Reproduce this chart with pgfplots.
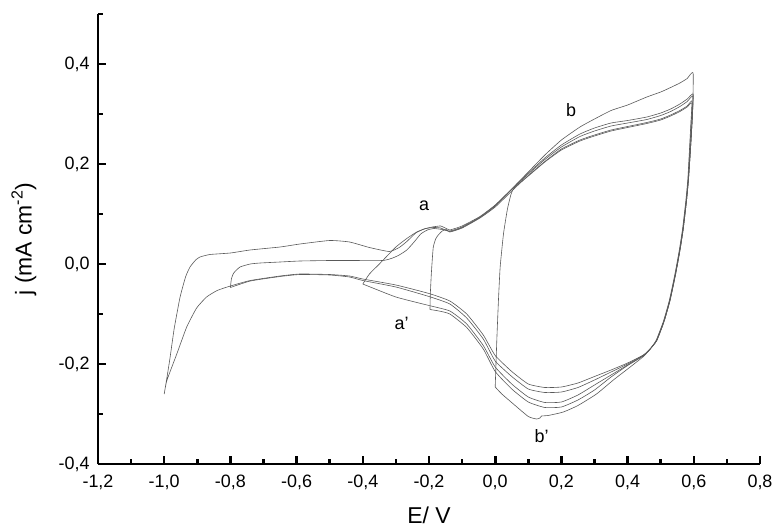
\documentclass[border=0pt]{standalone}
\usepackage{fontspec}
\setmainfont{Liberation Sans}
\usepackage{pgfplots}
\pgfplotsset{compat=1.18}
\pgfplotsset{mycv/.style={black!65, line width=0.6bp, mark=none, smooth, tension=0.3}}
\begin{document}
\begin{tikzpicture}[x=1bp,y=1bp]
\useasboundingbox (-98bp,-64bp) rectangle (676bp,464bp);
\begin{axis}[
  at={(0,0)}, anchor=south west,
  scale only axis, width=662bp, height=450bp,
  xmin=-1.2, xmax=0.8, ymin=-0.4, ymax=0.5,
  axis x line*=bottom, axis y line*=left,
  axis line style={line width=2.6bp},
  xtick={-1.2,-1.0,-0.8,-0.6,-0.4,-0.2,0,0.2,0.4,0.6,0.8},
  minor xtick={-1.1,-0.9,-0.7,-0.5,-0.3,-0.1,0.1,0.3,0.5,0.7},
  ytick={-0.4,-0.2,0,0.2,0.4},
  minor ytick={-0.3,-0.1,0.1,0.3,0.5},
  tick align=inside,
  major tick length=8bp, minor tick length=5bp,
  every tick/.style={line width=2.6bp, black},
  tick label style={font=\fontsize{18}{20}\selectfont},
  xticklabel style={yshift=-7bp},
  yticklabel style={xshift=-5bp},
  /pgf/number format/.cd, fixed, fixed zerofill, precision=1, use comma, assume math mode=true,
  /pgfplots/.cd,
  clip=false,
]
% Loop A (-1.0 to 0.6)
\addplot[mycv] coordinates {
(-1.0,-0.26)(-0.99,-0.22)(-0.982,-0.186)(-0.97,-0.13)(-0.952,-0.066)(-0.935,-0.025)(-0.922,-0.006)(-0.905,0.008)(-0.892,0.014)(-0.862,0.019)(-0.8,0.022)(-0.741,0.028)(-0.65,0.034)(-0.59,0.04)(-0.5,0.047)(-0.44,0.044)(-0.38,0.033)(-0.32,0.025)(-0.29,0.033)(-0.267,0.045)(-0.24,0.062)(-0.215,0.07)(-0.19,0.074)(-0.165,0.076)(-0.145,0.07)
(-0.137,0.068)(-0.1,0.076)(-0.046,0.095)(0.0,0.118)(0.05,0.15)(0.1,0.184)(0.15,0.218)(0.2,0.248)(0.256,0.274)(0.3,0.29)(0.35,0.307)(0.4,0.318)(0.458,0.334)(0.5,0.344)(0.53,0.353)(0.558,0.362)(0.58,0.371)(0.598,0.382)
(0.596,0.3)(0.59,0.23)(0.584,0.17)(0.578,0.127)(0.568,0.07)(0.558,0.027)(0.545,-0.02)(0.528,-0.073)(0.51,-0.115)(0.488,-0.153)(0.468,-0.17)(0.448,-0.182)
(0.4,-0.198)(0.35,-0.212)(0.3,-0.225)(0.25,-0.238)(0.2,-0.246)(0.15,-0.247)(0.1,-0.24)(0.05,-0.215)(0.0,-0.183)(-0.036,-0.142)(-0.086,-0.1)(-0.137,-0.074)(-0.2,-0.059)(-0.3,-0.042)(-0.4,-0.03)(-0.44,-0.024)(-0.5,-0.021)(-0.59,-0.02)(-0.65,-0.024)(-0.74,-0.033)(-0.8,-0.044)(-0.84,-0.053)(-0.872,-0.066)(-0.902,-0.088)(-0.932,-0.126)(-0.962,-0.18)(-0.992,-0.233)(-1.0,-0.26)
};
% Loop B (-0.8 to 0.6)
\addplot[mycv] coordinates {
(-0.8,-0.047)(-0.797,-0.03)(-0.79,-0.018)(-0.771,-0.006)(-0.74,0.0)(-0.71,0.002)(-0.65,0.004)(-0.59,0.006)(-0.5,0.007)(-0.44,0.007)(-0.34,0.007)(-0.31,0.012)(-0.29,0.018)(-0.267,0.028)(-0.245,0.044)(-0.225,0.06)(-0.205,0.068)(-0.185,0.071)(-0.16,0.069)
(-0.137,0.066)(-0.1,0.074)(-0.046,0.094)(0.0,0.117)(0.05,0.15)(0.1,0.182)(0.15,0.212)(0.2,0.238)(0.256,0.26)(0.3,0.272)(0.35,0.282)(0.4,0.287)(0.458,0.294)(0.5,0.302)(0.53,0.31)(0.558,0.32)(0.58,0.33)(0.598,0.34)
(0.596,0.3)(0.59,0.23)(0.584,0.17)(0.578,0.127)(0.568,0.07)(0.558,0.027)(0.545,-0.02)(0.528,-0.073)(0.51,-0.115)(0.488,-0.153)(0.468,-0.17)(0.448,-0.182)
(0.4,-0.2)(0.35,-0.216)(0.3,-0.232)(0.25,-0.247)(0.2,-0.256)(0.15,-0.257)(0.1,-0.25)(0.05,-0.225)(0.0,-0.194)(-0.036,-0.15)(-0.086,-0.108)(-0.137,-0.08)(-0.2,-0.065)(-0.3,-0.046)(-0.4,-0.033)(-0.44,-0.026)(-0.5,-0.022)(-0.59,-0.021)(-0.65,-0.025)(-0.74,-0.034)(-0.8,-0.047)
};
% Loop C (-0.4 to 0.6)
\addplot[mycv] coordinates {
(-0.4,-0.04)(-0.38,-0.02)(-0.35,0.0)(-0.3,0.034)(-0.265,0.052)(-0.237,0.064)(-0.21,0.071)(-0.185,0.073)(-0.165,0.072)
(-0.137,0.065)(-0.1,0.073)(-0.046,0.093)(0.0,0.116)(0.05,0.149)(0.1,0.18)(0.15,0.209)(0.2,0.234)(0.256,0.255)(0.3,0.266)(0.35,0.276)(0.4,0.282)(0.458,0.289)(0.5,0.297)(0.53,0.305)(0.558,0.315)(0.58,0.325)(0.597,0.336)
(0.596,0.3)(0.59,0.23)(0.584,0.17)(0.578,0.127)(0.568,0.07)(0.558,0.027)(0.545,-0.02)(0.528,-0.073)(0.51,-0.115)(0.488,-0.153)(0.468,-0.17)(0.448,-0.183)
(0.4,-0.202)(0.35,-0.222)(0.3,-0.242)(0.25,-0.262)(0.2,-0.276)(0.15,-0.277)(0.1,-0.266)(0.05,-0.24)(0.0,-0.206)(-0.036,-0.163)(-0.086,-0.12)(-0.137,-0.094)(-0.2,-0.083)(-0.3,-0.066)(-0.4,-0.04)
};
% Loop D (-0.2 to 0.6)
\addplot[mycv] coordinates {
(-0.197,-0.091)(-0.196,-0.06)(-0.193,-0.02)(-0.19,0.01)(-0.187,0.034)(-0.18,0.05)(-0.172,0.058)(-0.16,0.066)(-0.148,0.069)
(-0.137,0.064)(-0.1,0.072)(-0.046,0.092)(0.0,0.114)(0.05,0.146)(0.1,0.177)(0.15,0.205)(0.2,0.23)(0.256,0.248)(0.3,0.258)(0.35,0.268)(0.4,0.275)(0.458,0.283)(0.5,0.29)(0.53,0.298)(0.558,0.307)(0.58,0.316)(0.595,0.326)
(0.592,0.28)(0.588,0.23)(0.583,0.17)(0.577,0.127)(0.567,0.07)(0.557,0.027)(0.544,-0.02)(0.527,-0.073)(0.509,-0.115)(0.487,-0.153)(0.467,-0.171)(0.447,-0.184)
(0.4,-0.203)(0.35,-0.226)(0.3,-0.252)(0.25,-0.272)(0.2,-0.286)(0.15,-0.287)(0.1,-0.276)(0.05,-0.25)(0.0,-0.215)(-0.036,-0.17)(-0.086,-0.127)(-0.137,-0.1)(-0.17,-0.094)(-0.197,-0.091)
};
% Loop E (0.0 to 0.6)
\addplot[mycv] coordinates {
(0.0,-0.246)(0.005,-0.15)(0.01,-0.07)(0.015,-0.006)(0.025,0.06)(0.037,0.11)(0.048,0.14)(0.058,0.153)
(0.1,0.176)(0.15,0.204)(0.2,0.228)(0.256,0.246)(0.3,0.256)(0.35,0.266)(0.4,0.273)(0.458,0.281)(0.5,0.288)(0.53,0.296)(0.558,0.305)(0.58,0.314)(0.594,0.322)
(0.591,0.28)(0.587,0.23)(0.582,0.17)(0.576,0.127)(0.566,0.07)(0.556,0.027)(0.543,-0.02)(0.526,-0.073)(0.508,-0.115)(0.486,-0.153)(0.466,-0.172)(0.446,-0.186)
(0.4,-0.21)(0.357,-0.232)(0.306,-0.26)(0.25,-0.283)(0.206,-0.296)(0.16,-0.303)(0.14,-0.304)(0.135,-0.308)(0.125,-0.31)(0.1,-0.305)(0.055,-0.28)(0.02,-0.26)(0.0,-0.246)
};
\node[font=\fontsize{18}{20}\selectfont] at (axis cs:-0.215,0.117) {a};
\node[font=\fontsize{18}{20}\selectfont] at (axis cs:0.229,0.307) {b};
\node[font=\fontsize{18}{20}\selectfont] at (axis cs:-0.283,-0.119) {a'};
\node[font=\fontsize{18}{20}\selectfont] at (axis cs:0.14,-0.345) {b'};
\end{axis}
\node[rotate=90, font=\fontsize{23}{26}\selectfont] at (-74bp,225bp) {j (mA cm\textsuperscript{-2})};
\node[anchor=base, font=\fontsize{23}{26}\selectfont] at (331bp,-59bp) {E/ V};
\end{tikzpicture}
\end{document}
